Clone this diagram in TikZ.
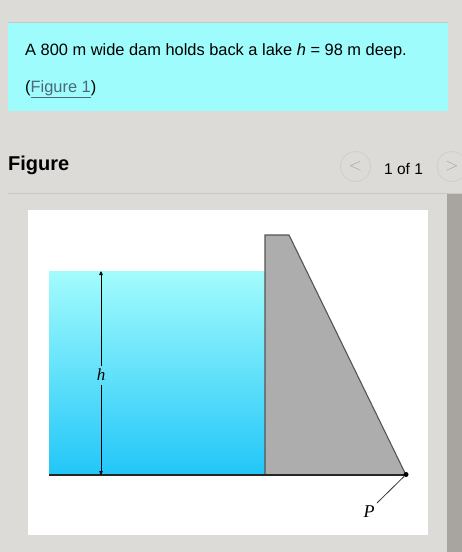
\documentclass[tikz,border=0pt]{standalone}
\usepackage{fontspec}
\setmainfont{Liberation Sans}
\newfontfamily\serifit{Liberation Serif}
\usetikzlibrary{arrows.meta}
\definecolor{pagebg}{HTML}{DCDBD8}
\definecolor{boxcyan}{HTML}{9FFCFC}
\definecolor{boxtop}{HTML}{C9C8C5}
\definecolor{scrollc}{HTML}{A8A49F}
\definecolor{waterTop}{HTML}{A3FCFC}
\definecolor{waterBot}{HTML}{22C6F9}
\definecolor{damfill}{HTML}{ADADAD}
\definecolor{damline}{HTML}{555555}
\definecolor{linkc}{HTML}{4A6A78}
\definecolor{circc}{HTML}{CFCECB}
\tikzset{
  txt/.style={inner sep=0pt, anchor=base west, text=black},
  navcirc/.style={draw=circc, line width=0.8pt, circle, minimum size=30pt, inner sep=0pt},
  dim/.style={line width=0.6pt, -{Triangle[length=4pt,width=3.5pt]}},
}
\begin{document}
\begin{tikzpicture}[x=1pt,y=-1pt]
\useasboundingbox (0,0) rectangle (462,552);
\fill[pagebg] (0,0) rectangle (462,552);
% question box
\fill[boxcyan] (8,22) rectangle (448,111);
\draw[boxtop, line width=1pt] (8,22.5) -- (448,22.5);
\node[txt, font=\fontsize{16.4}{19}\selectfont] (q) at (25,55) {A 800 $\mathrm{m}$ wide dam holds back a lake \textit{h} = 98 $\mathrm{m}$ deep.};
\node[txt, font=\fontsize{16.4}{19}\selectfont] (fig1) at (25,92) {(\textcolor{linkc}{\underline{Figure 1}})};
% figure header
\node[txt, font=\fontsize{20}{22}\selectfont\bfseries] (figlab) at (8,170) {Figure};
\node[navcirc] (prev) at (355.5,166.5) {};
\node[text=gray!70, font=\fontsize{16}{16}\selectfont] at (prev) {$<$};
\node[txt, font=\fontsize{15.5}{17}\selectfont] (count) at (384,174) {1 of 1};
\node[navcirc] (next) at (452,166.5) {};
\node[text=gray!70, font=\fontsize{16}{16}\selectfont] at (next) {$>$};
\draw[boxtop, line width=1pt] (8,193) -- (462,193);
% scrollbar
\fill[scrollc] (447,194) rectangle (462,552);
% figure panel
\fill[white] (28,210) rectangle (428,535);
% water
\shade[top color=waterTop, bottom color=waterBot] (49,271) rectangle (265,475);
% dam
\draw[damline, fill=damfill, line width=1.1pt, line join=miter] (265,475) -- (265,235) -- (289,235) -- (406,475);
\draw[black!85, line width=1.1pt] (49,475) -- (406,475);
% dimension h
\coordinate (htop) at (101,271);
\coordinate (hbot) at (101,475);
\node[font=\fontsize{17}{17}\selectfont\serifit\itshape, inner sep=1pt] (hlab) at (101,375) {h};
\draw[dim] (101,366) -- (htop);
\draw[dim] (101,385) -- (hbot);
% point P
\node[circle, fill=black, minimum size=5pt, inner sep=0pt] (pt) at (406,474.5) {};
\node[font=\fontsize{18}{18}\selectfont\serifit\itshape, inner sep=0pt] (plab) at (369,512) {P};
\draw[black!80, line width=0.8pt] (pt) -- (377,503);
\end{tikzpicture}
\end{document}
